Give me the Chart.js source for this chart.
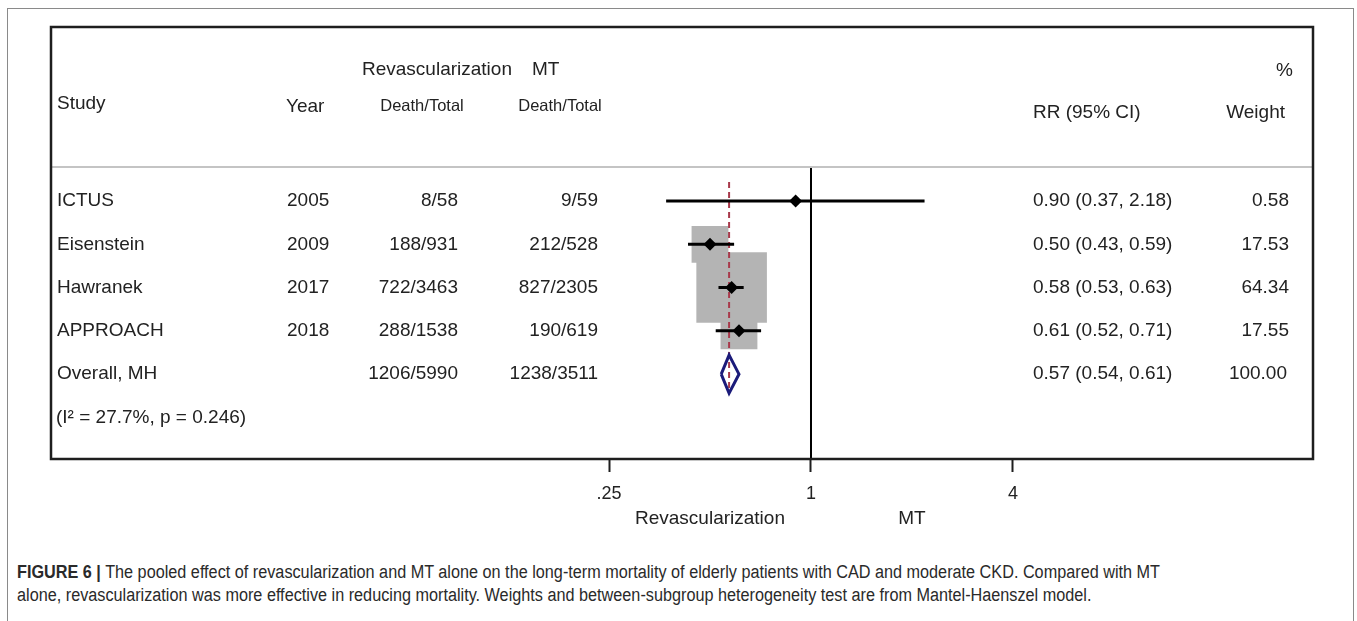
<!DOCTYPE html>
<html>
<head>
<meta charset="utf-8">
<script src="https://cdn.jsdelivr.net/npm/chart.js@4.4.1/dist/chart.umd.min.js"></script>
<style>
  html, body { margin: 0; padding: 0; background: #fff; width: 1357px; height: 621px; overflow: hidden; }
  #frame { position: absolute; left: 7px; top: 8px; width: 1347px; height: 700px; border: 1px solid #8a8a8a; box-sizing: border-box; }
  #wrap { position: absolute; left: 0; top: 0; width: 1357px; height: 550px; }
  #caption { position: absolute; left: 17px; top: 561px; font-family: "Liberation Sans", Arial, sans-serif; font-size: 18px; line-height: 23px; color: #2a2a2a; white-space: nowrap; transform-origin: 0 0; }
  #caption b { font-weight: bold; }
</style>
</head>
<body>
<div id="frame"></div>
<div id="wrap"><canvas id="c" width="1357" height="550"></canvas></div>
<div id="caption"><span id="cap1"><b>FIGURE 6 |</b> The pooled effect of revascularization and MT alone on the long-term mortality of elderly patients with CAD and moderate CKD. Compared with MT</span><br><span id="cap2">alone, revascularization was more effective in reducing mortality. Weights and between-subgroup heterogeneity test are from Mantel-Haenszel model.</span></div>
<script>
// ---- data ----
const studies = ['ICTUS', 'Eisenstein', 'Hawranek', 'APPROACH'];
const years = ['2005', '2009', '2017', '2018'];
const revascEvents = ['8/58', '188/931', '722/3463', '288/1538'];
const mtEvents = ['9/59', '212/528', '827/2305', '190/619'];
const rr = [0.90, 0.50, 0.58, 0.61];
const ciLow = [0.37, 0.43, 0.53, 0.52];
const ciHigh = [2.18, 0.59, 0.63, 0.71];
const weights = [0.58, 17.53, 64.34, 17.55];
const overallLabel = 'Overall, MH';
const overallRevasc = '1206/5990';
const overallMT = '1238/3511';
const overallRR = 0.57;
const overallLow = 0.54;
const overallHigh = 0.61;
const overallWeight = 100.00;
const heterogeneity = '(I\u00B2 = 27.7%, p = 0.246)';
const tickValues = [0.25, 1, 4];
const tickLabels = ['.25', '1', '4'];
const sideLabels = ['Revascularization', 'MT'];
const sideLabelPos = [0.5, 2];

// ---- caption width fit (condensed face) ----
(function () {
  const cap = document.getElementById('caption');
  const w1 = document.getElementById('cap1').getBoundingClientRect().width;
  if (w1 > 0) cap.style.transform = 'scaleX(' + (1143 / w1) + ')';
})();

// ---- derived ----
const rows = studies.map((s, i) => i + 1);
const overallRow = studies.length + 1;
const hetRow = studies.length + 2;
const fmt = v => v.toFixed(2);

const squareData = rows.map((r, i) => ({ x: rr[i], y: r }));
const squareRadius = weights.map(w => 6.22 * Math.sqrt(w));
const pointData = rows.map((r, i) => ({ x: rr[i], y: r }));
const ciData = [];
rows.forEach((r, i) => { ciData.push({ x: ciLow[i], y: r }, { x: ciHigh[i], y: r }, { x: ciHigh[i], y: null }); });
const diamondH = 0.44;
const diamondData = [
  { x: overallLow, y: overallRow }, { x: overallRR, y: overallRow - diamondH },
  { x: overallHigh, y: overallRow }, { x: overallRR, y: overallRow + diamondH },
  { x: overallLow, y: overallRow }
];
const Y_MIN = -3.02, Y_MAX = 6.96, HEADER_LINE = 0.215;
const nullLine = [{ x: 1, y: HEADER_LINE }, { x: 1, y: Y_MAX }];
const dashLine = [{ x: overallRR, y: 0.56 }, { x: overallRR, y: 5.43 }];

const F = '"Liberation Sans", Arial, sans-serif';
const TXT = '#222';

const tablePlugin = {
  id: 'table',
  afterDraw(chart) {
    const { ctx, chartArea: a, scales: { x, y } } = chart;
    ctx.save();
    // header separator
    ctx.strokeStyle = '#c4c4c4'; ctx.lineWidth = 2;
    const hy = y.getPixelForValue(HEADER_LINE);
    ctx.beginPath(); ctx.moveTo(a.left, hy); ctx.lineTo(a.right, hy); ctx.stroke();
    // box
    ctx.strokeStyle = '#1e1e1e'; ctx.lineWidth = 2.5;
    ctx.strokeRect(a.left, a.top, a.right - a.left, a.bottom - a.top);

    ctx.fillStyle = TXT;
    ctx.textBaseline = 'middle';
    const t = (s, px, py, align, size) => { ctx.font = (size || 19) + 'px ' + F; ctx.textAlign = align; ctx.fillText(s, px, py); };
    const L = a.left;
    const T = a.top;
    // headers (layout offsets from box top)
    t('Revascularization', L + 311, T + 43, 'left');
    t('MT', L + 481, T + 43, 'left');
    t('%', L + 1242, T + 44, 'right');
    t('Study', L + 6, T + 77, 'left');
    t('Year', L + 235, T + 80, 'left');
    t('Death/Total', L + 371, T + 79, 'center', 16.5);
    t('Death/Total', L + 509, T + 79, 'center', 16.5);
    t('RR (95% CI)', L + 982, T + 86, 'left');
    t('Weight', L + 1234, T + 86, 'right');
    // rows
    rows.forEach((r, i) => {
      const py = y.getPixelForValue(r);
      t(studies[i], L + 6, py, 'left');
      t(years[i], L + 236, py, 'left');
      t(revascEvents[i], L + 407, py, 'right');
      t(mtEvents[i], L + 547, py, 'right');
      t(fmt(rr[i]) + ' (' + fmt(ciLow[i]) + ', ' + fmt(ciHigh[i]) + ')', L + 982, py, 'left');
      t(fmt(weights[i]), L + 1238, py, 'right');
    });
    const oy = y.getPixelForValue(overallRow);
    t(overallLabel, L + 6, oy, 'left');
    t(overallRevasc, L + 407, oy, 'right');
    t(overallMT, L + 547, oy, 'right');
    t(fmt(overallRR) + ' (' + fmt(overallLow) + ', ' + fmt(overallHigh) + ')', L + 982, oy, 'left');
    t(fmt(overallWeight), L + 1236, oy, 'right');
    t(heterogeneity, L + 5, y.getPixelForValue(hetRow), 'left');
    // side labels under axis
    sideLabels.forEach((s, i) => t(s, x.getPixelForValue(sideLabelPos[i]), a.bottom + 60, 'center'));
    ctx.restore();
  }
};

new Chart(document.getElementById('c'), {
  type: 'scatter',
  data: {
    datasets: [
      { label: 'estimates', data: pointData, order: 0, pointStyle: 'rectRot', pointRadius: 6.5, backgroundColor: '#000', borderColor: '#000', borderWidth: 0 },
      { label: 'ci', data: ciData, order: 1, showLine: true, spanGaps: false, pointRadius: 0, borderColor: '#000', borderWidth: 3 },
      { label: 'overall', data: diamondData, order: 2, showLine: true, pointRadius: 0, borderColor: '#1b1b7a', borderWidth: 3, fill: false },
      { label: 'pooled', data: dashLine, order: 3, showLine: true, pointRadius: 0, borderColor: '#a8394b', borderWidth: 2, borderDash: [6, 4] },
      { label: 'null', data: nullLine, order: 4, showLine: true, pointRadius: 0, borderColor: '#000', borderWidth: 2 },
      { label: 'weights', data: squareData, order: 5, pointStyle: 'rect', pointRadius: squareRadius, backgroundColor: '#b4b4b4', borderWidth: 0 }
    ]
  },
  options: {
    responsive: false,
    devicePixelRatio: 1,
    animation: false,
    events: [],
    layout: { autoPadding: false, padding: { left: 51, right: 44, top: 27, bottom: 0 } },
    plugins: { legend: { display: false }, tooltip: { enabled: false } },
    scales: {
      x: {
        type: 'logarithmic',
        bounds: 'data',
        min: 0.00543,
        max: 31.35,
        afterBuildTicks: s => { s.ticks = tickValues.map(v => ({ value: v })); },
        afterFit: s => { s.height = 91; },
        grid: { display: true, drawOnChartArea: false, drawTicks: true, tickLength: 13, tickColor: '#1e1e1e', tickWidth: 2 },
        border: { display: false },
        ticks: {
          autoSkip: false, maxRotation: 0, padding: 11, color: TXT,
          font: { family: F, size: 18 },
          callback: v => { const k = tickValues.indexOf(v); return k >= 0 ? tickLabels[k] : ''; }
        }
      },
      y: {
        type: 'linear', display: false, reverse: true, bounds: 'data', min: Y_MIN, max: Y_MAX
      }
    }
  },
  plugins: [tablePlugin]
});
</script>
</body>
</html>
